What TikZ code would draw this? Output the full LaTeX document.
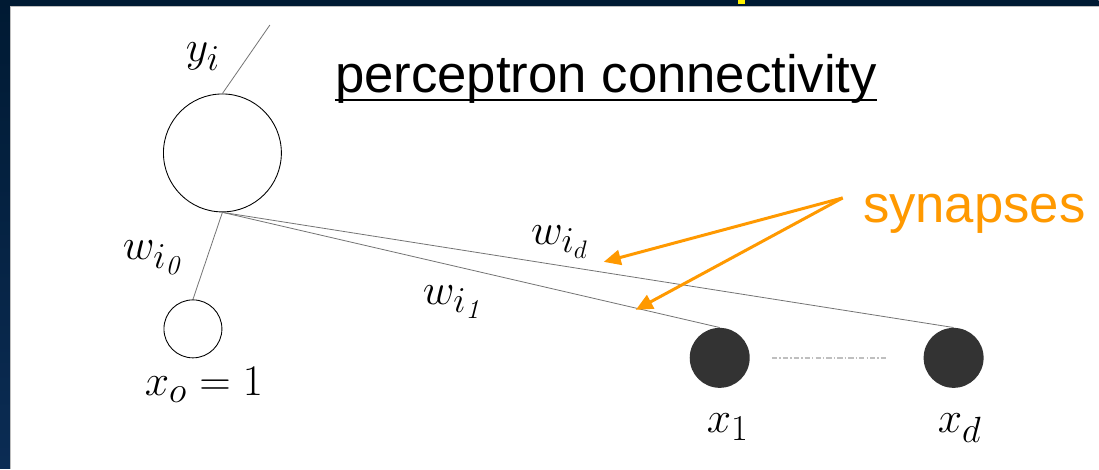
\documentclass[tikz,border=0pt]{standalone}
\usepackage{fontspec}
\newfontfamily\arialfont{Liberation Sans}
\usepackage{xcolor}
\usetikzlibrary{arrows.meta, positioning, calc}
\definecolor{slidetop}{HTML}{001A33}
\definecolor{slidebottom}{HTML}{0B2C54}
\definecolor{synorange}{HTML}{FF9900}
\definecolor{unitfill}{HTML}{333333}

\begin{document}
\begin{tikzpicture}[
        x=0.02cm, y=-0.02cm,
        unit/.style={circle, draw, line width=0.5pt, inner sep=0pt},
        inunit/.style={circle, fill=unitfill, inner sep=0pt, minimum size=1.2cm},
        wire/.style={draw=black!55, line width=0.45pt},
        lbl/.style={font=\fontsize{31}{35}\selectfont, inner sep=0pt},
        slidetext/.style={font=\arialfont\fontsize{30}{34}\selectfont, inner sep=0pt, anchor=base west},
        synarrow/.style={-{Triangle[length=0.34cm, width=0.3cm]}, synorange, line width=1.7pt}
    ]
        % slide background
        \shade[top color=slidetop, bottom color=slidebottom] (0,0) rectangle (1099,469);
        \fill[white] (10,6) rectangle (1099,469);
        \draw[black!25, line width=0.5pt] (10,469) -- (10,6) -- (1099,6);
        \fill[yellow] (738,0) rectangle (745,4);
        \useasboundingbox (0,0) rectangle (1099,469);

        \node[slidetext] (title) at (335,93) {perceptron connectivity};
        \draw[line width=1.3pt] ($(title.base west)+(0,7)$) -- ($(title.base east)+(0,7)$);

        % units
        \node[unit, minimum size=2.36cm] (yunit) at (222.5,153) {};
        \node[unit, minimum size=1.16cm] (bias) at (193,329) {};
        \node[inunit] (xone) at (720,358) {};
        \node[inunit] (xd) at (954,358) {};
        \coordinate (yout) at (270,25);

        \draw[wire] (yunit.north) -- (yout);
        \draw[wire] (yunit.south) -- (bias.north);
        \draw[wire] (yunit.south) -- (xone.north);
        \draw[wire] (yunit.south) -- (xd.north);
        \draw[black!25, line width=0.9pt, dash pattern=on 3pt off 1.2pt on 0.8pt off 1.2pt,
              shorten <=0.44cm, shorten >=0.74cm] (xone) -- (xd);

        % labels
        \node[lbl] (ylbl) at (203,57) {$y_i$};
        \node[lbl] (wzero) at (152,258) {$w_{i_{\mathit{0}}}$};
        \node[lbl] (wd) at (560,242) {$w_{i_d}$};
        \node[lbl] (wone) at (452,302) {$w_{i_{\mathit{1}}}$};
        \node[lbl] (xzero) at (204,385) {$x_o = 1$};
        \node[lbl, below=0.5cm of xone, xshift=0.16cm] (xonelbl) {$x_1$};
        \node[lbl, below=0.5cm of xd, xshift=0.12cm] (xdlbl) {$x_d$};

        % synapses
        \node[slidetext, text=synorange] (syn) at (863,223) {synapses};
        \coordinate (synfoot) at (843,198);
        \coordinate (tipd) at (604,262);
        \coordinate (tipone) at (636,310);
        \draw[synarrow] (synfoot) -- (tipd);
        \draw[synarrow] (synfoot) -- (tipone);
    \end{tikzpicture}
\end{document}
